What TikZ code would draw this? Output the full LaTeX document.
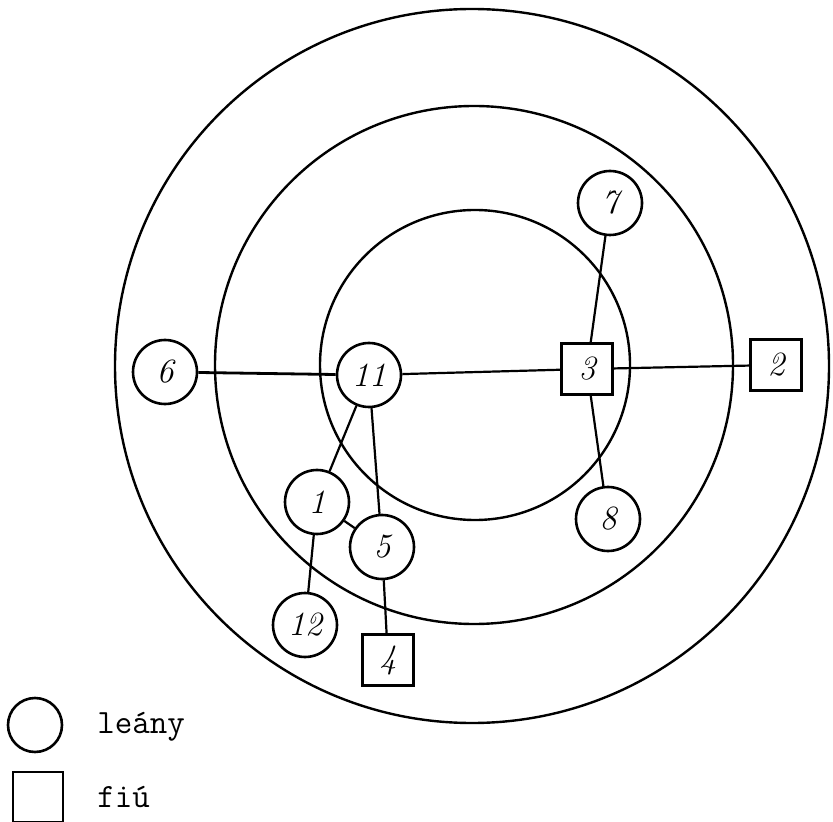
\documentclass[tikz,border=0pt]{standalone}
\begin{document}
\begin{tikzpicture}[x=0.5pt,y=-0.5pt,
  girl/.style={draw,circle,line width=1.3pt,minimum size=32pt,inner sep=0pt,font=\fontsize{17}{17}\selectfont\itshape},
  boy/.style={draw,rectangle,line width=1.3pt,minimum size=25.5pt,inner sep=0pt,font=\fontsize{17}{17}\selectfont\itshape},
  ring/.style={draw,line width=1.2pt},
  tie/.style={draw,line width=1.1pt},
  legtext/.style={anchor=west,inner sep=0pt,font=\ttfamily\fontsize{17}{17}\selectfont}]
\useasboundingbox (0,0) rectangle (833,822);
% concentric rings
\draw[ring] (472,366) circle[radius=357];
\draw[ring] (474,365) circle[radius=259];
\draw[ring] (475,365) circle[radius=155];
% nodes
\node[girl] (n6) at (165,372) {6};
\node[girl] (n11) at (369,375) {11};
\node[boy] (n3) at (587,369) {3};
\node[boy] (n2) at (776,365) {2};
\node[girl] (n7) at (610,203) {7};
\node[girl] (n8) at (608,519) {8};
\node[girl] (n1) at (317,502) {1};
\node[girl] (n5) at (382,547) {5};
\node[girl] (n12) at (305,625) {12};
\node[boy] (n4) at (388,660) {4};
% ties
\draw[tie,line width=1.4pt] (n6) -- (n11);
\draw[tie] (n11) -- (n3);
\draw[tie] (n3) -- (n2);
\draw[tie] (n7) -- (n3);
\draw[tie] (n3) -- (n8);
\draw[tie] (n11) -- (n1);
\draw[tie] (n11) -- (n5);
\draw[tie] (n1) -- (n5);
\draw[tie] (n1) -- (n12);
\draw[tie] (n5) -- (n4);
% legend
\node[draw,circle,line width=1.3pt,minimum size=27pt,inner sep=0pt] (lgirl) at (35,725) {};
\node[draw,rectangle,line width=1.3pt,minimum size=25pt,inner sep=0pt] (lboy) at (38,797) {};
\node[legtext] (tgirl) at (97,727) {leány};
\node[legtext] (tboy) at (97,797) {fiú};
\end{tikzpicture}
\end{document}
